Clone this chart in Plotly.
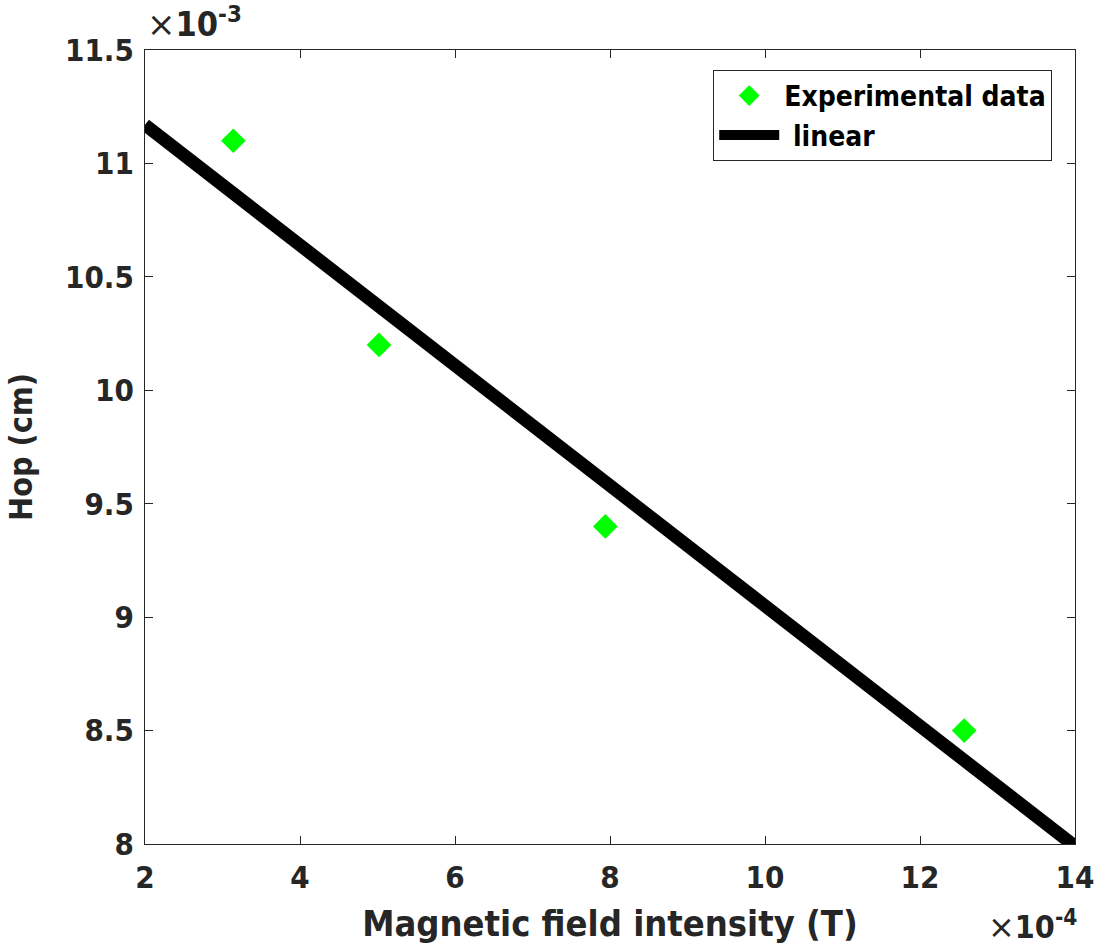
import plotly.graph_objects as go

# Data (x in units of 1e-4 T, y in units of 1e-3 cm)
exp_x = [3.14, 5.02, 7.94, 12.57]
exp_y = [11.1, 10.2, 9.4, 8.5]
fit_x = [2.0, 14.0]
fit_y = [11.17, 7.99]

x_ticks = [2, 4, 6, 8, 10, 12, 14]
y_ticks = [8, 8.5, 9, 9.5, 10, 10.5, 11, 11.5]
y_tick_text = ["8", "8.5", "9", "9.5", "10", "10.5", "11", "11.5"]

FONT = "DejaVu Sans Condensed, Liberation Sans Narrow, sans-serif"
AX = "#262626"

fig = go.Figure()
fig.add_trace(go.Scatter(
    x=exp_x, y=exp_y, mode="markers", name="Experimental data",
    marker=dict(symbol="diamond", size=19, color="#00ff00", line=dict(width=0)),
))
fig.add_trace(go.Scatter(
    x=fit_x, y=fit_y, mode="lines", name=" linear",
    line=dict(color="black", width=13),
))

axis_common = dict(
    showgrid=False, zeroline=False, showline=True, linecolor=AX, linewidth=1,
    mirror="ticks", ticks="inside", ticklen=8, tickcolor=AX, tickwidth=1,
    tickfont=dict(family=FONT, size=31, color=AX, weight="bold"),
)

fig.update_layout(
    width=1106, height=949,
    margin=dict(l=145, r=23, t=50, b=105),
    paper_bgcolor="white", plot_bgcolor="white",
    font=dict(family=FONT, color=AX),
    xaxis=dict(range=[2, 14], tickvals=x_ticks, **axis_common, ticklabelstandoff=6,
               title=dict(text="<b>Magnetic field intensity (T)</b>", font=dict(family=FONT, size=36, color=AX), standoff=16)),
    yaxis=dict(range=[8, 11.5], tickvals=y_ticks, ticktext=y_tick_text, **axis_common, ticklabelstandoff=4,
               title=dict(text="<b>Hop (cm)</b>", font=dict(family=FONT, size=32, color=AX), standoff=22)),
    legend=dict(x=0.611, y=0.975, xanchor="left", yanchor="top",
                bordercolor=AX, borderwidth=1, bgcolor="white",
                font=dict(family=FONT, size=28, color="black", weight="bold"),
                itemwidth=60, tracegroupgap=0),
    showlegend=True,
)

fig.add_annotation(x=0, y=1, xref="paper", yref="paper", xanchor="left", yanchor="bottom",
                   text="<span style='font-family:DejaVu Sans;font-weight:normal'>×</span><b>10<sup>-3</sup></b>",
                   showarrow=False, font=dict(family=FONT, size=34, color=AX), xshift=0, yshift=4)
fig.add_annotation(x=1, y=0, xref="paper", yref="paper", xanchor="right", yanchor="top",
                   text="<span style='font-family:DejaVu Sans;font-weight:normal'>×</span><b>10<sup>-4</sup></b>",
                   showarrow=False, font=dict(family=FONT, size=32, color=AX), yshift=-58, xshift=4)

fig.write_html("out.html")
